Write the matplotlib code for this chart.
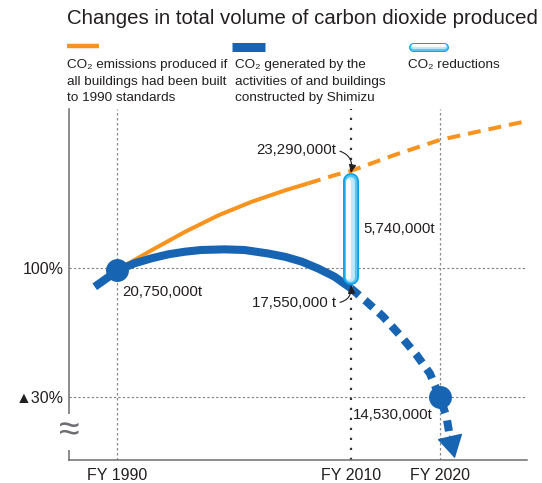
import numpy as np
import matplotlib.pyplot as plt
from matplotlib.lines import Line2D
from matplotlib.patches import FancyArrowPatch
from matplotlib.transforms import IdentityTransform

plt.rcParams['font.family'] = ['Liberation Sans', 'DejaVu Sans']

# ---- values ----
tick_years = [1990, 2010, 2020]
tick_labels = ['FY 1990', 'FY 2010', 'FY 2020']
pct_ticks = [100, 70]
pct_labels = ['100%', '\u25b230%']

# CO2 if all buildings had been built to 1990 standards (% of FY1990)
std_years = [1990.0, 1991.0, 1993.0, 1995.8, 1998.7, 2001.5, 2004.4, 2006.35]
std_pct = [100.0, 101.1, 104.2, 108.4, 112.3, 115.4, 118.1, 119.7]
std_years_proj = [2006.35, 2008.6, 2010.0, 2014.9, 2020.0, 2025.1, 2029.8]
std_pct_proj = [119.7, 121.6, 122.6, 126.3, 129.8, 132.1, 134.2]

# CO2 generated by Shimizu (actual, then target)
act_years = [1988.1, 1990.1, 1991.5, 1993.0, 1994.4, 1995.8, 1997.2, 1999.2, 2000.9,
             2002.9, 2004.4, 2005.8, 2007.2, 2008.6, 2010.0]
act_pct = [95.65, 99.5, 101.1, 102.3, 103.2, 103.8, 104.2, 104.35, 104.2,
           103.4, 102.6, 101.5, 99.9, 98.0, 95.3]
act_years_proj = [2010.0, 2011.76, 2013.63, 2015.51, 2017.38, 2018.88, 2020.0, 2020.75,
                  2021.12, 2021.69]
act_pct_proj = [95.3, 92.2, 88.7, 84.4, 79.8, 75.5, 70.0, 65.4, 60.9, 55.75]

milestone_years = [1990, 2020]
milestone_pct = [99.5, 70.0]
milestone_labels = ['20,750,000t', '14,530,000t']

reduction_year = 2010
reduction_top = 122.1
reduction_bottom = 96.05
reduction_labels = ['23,290,000t', '17,550,000 t', '5,740,000t']

legend_labels = ['CO\u2082 emissions produced if\nall buildings had been built\nto 1990 standards',
                 'CO\u2082 generated by the\nactivities of and buildings\nconstructed by Shimizu',
                 'CO\u2082 reductions']

ORANGE = '#f7931e'
BLUE = '#1764b3'
CYAN = '#0aa3e5'
TXT = '#231f20'

W, H = 542, 483
fig = plt.figure(figsize=(W / 100, H / 100), dpi=100)


def fx(x):
    return x / W


def fy(y):
    return 1 - y / H


ax = fig.add_axes([fx(69), fy(460), fx(527) - fx(69), fy(109) - fy(460)])

# schematic time axis: 20 years before 2010 are wider than the 10 after
knot_years = [1900, 1990, 2010, 2020, 2100]
knot_pos = [117 - 90 * 11.7, 117, 351, 440, 440 + 80 * 8.9]
ax.set_xscale('function', functions=(lambda x: np.interp(x, knot_years, knot_pos),
                                     lambda p: np.interp(p, knot_pos, knot_years)))
ax.set_xlim(1985.9, 2029.8)
ax.set_ylim(55.35, 137.0)

for s in ['top', 'right']:
    ax.spines[s].set_visible(False)
for s in ['left', 'bottom']:
    ax.spines[s].set_color('#6d6e71')
    ax.spines[s].set_linewidth(1.1)

ax.set_xticks(tick_years, tick_labels)
ax.set_yticks(pct_ticks, pct_labels)
ax.tick_params(length=0, labelsize=11.5, colors=TXT)
ax.tick_params(axis='x', pad=6)
ax.tick_params(axis='y', pad=4)

# grid lines
for p in pct_ticks:
    ax.axhline(p, color='#7f7f7f', lw=0.8, dashes=(2, 2), zorder=1)
for yr in tick_years:
    if yr == 2010:
        ax.axvline(yr, color='#333333', lw=1.6, dashes=(1, 3.5), zorder=1)
    else:
        ax.axvline(yr, color='#8a8a8a', lw=0.9, dashes=(2, 2), zorder=1)

# axis break mark
ax.text(0, 61.9, '\u2248', transform=ax.get_yaxis_transform(), ha='center', va='center',
        fontsize=27, color='#6d6e71',
        bbox=dict(facecolor='white', edgecolor='none', pad=0), zorder=5)

# orange curve
ax.plot(std_years, std_pct, color=ORANGE, lw=2.9, solid_capstyle='butt',
        solid_joinstyle='round', zorder=3)
ax.plot(std_years_proj, std_pct_proj, color=ORANGE, lw=2.9, dashes=(3.2, 2.0),
        dash_capstyle='butt', zorder=3)

# blue curve
ax.plot(act_years, act_pct, color=BLUE, lw=5.8, solid_capstyle='butt',
        solid_joinstyle='round', zorder=4)
ax.plot(act_years_proj[:-1], act_pct_proj[:-1], color=BLUE, lw=5.8, dashes=(1.35, 0.95),
        dash_capstyle='butt', zorder=4)
ax.add_patch(FancyArrowPatch((act_years_proj[-2], act_pct_proj[-2]),
                             (act_years_proj[-1], act_pct_proj[-1]),
                             arrowstyle='-|>,head_length=1.4,head_width=0.8',
                             mutation_scale=10.5, color=BLUE, lw=1,
                             shrinkA=0, shrinkB=0, zorder=5))
ax.plot(milestone_years, milestone_pct, 'o', color=BLUE, ms=16.5, mec='none', zorder=6)


def capsule(p0, p1, width_px):
    # round-capped bar whose outer ends sit on display points p0, p1
    p0 = np.asarray(p0, float)
    p1 = np.asarray(p1, float)
    u = (p1 - p0) / np.hypot(*(p1 - p0))
    a = p0 + u * width_px / 2
    b = p1 - u * width_px / 2
    layers = [(1.0, CYAN, 0.0), (0.78, '#5ec3f0', 0.0), (0.55, '#bfe8fa', -0.08),
              (0.3, 'white', -0.15)]
    perp = np.array([-u[1], u[0]])
    if perp[0] > 0:
        perp = -perp
    for frac, col, off in layers:
        sh = -perp * off * width_px
        fig.add_artist(Line2D([a[0] + sh[0], b[0] + sh[0]], [a[1] + sh[1], b[1] + sh[1]],
                              transform=IdentityTransform(), color=col,
                              lw=width_px * frac * 0.72, solid_capstyle='round', zorder=7))


fig.canvas.draw()
top_d = ax.transData.transform((reduction_year, reduction_top))
bot_d = ax.transData.transform((reduction_year, reduction_bottom))
capsule(top_d, bot_d, 16)

arrow_kw = dict(arrowstyle='-|>,head_length=0.5,head_width=0.22', color=TXT, lw=0.8,
                shrinkA=1, shrinkB=0, mutation_scale=10)
ax.annotate(reduction_labels[0], (reduction_year, reduction_top), xytext=(-15, 23),
            textcoords='offset pixels', ha='right', va='center', fontsize=10.8, color=TXT,
            arrowprops=dict(connectionstyle='arc3,rad=-0.5', relpos=(1, 0.5), **arrow_kw),
            zorder=8)
ax.annotate(reduction_labels[1], (reduction_year, reduction_bottom), xytext=(-15, -18),
            textcoords='offset pixels', ha='right', va='center', fontsize=10.8, color=TXT,
            arrowprops=dict(connectionstyle='arc3,rad=0.5', relpos=(1, 0.5), **arrow_kw),
            zorder=8)
ax.annotate(reduction_labels[2], (reduction_year, (reduction_top + reduction_bottom) / 2),
            xytext=(12, 0), textcoords='offset pixels', ha='left', va='center',
            fontsize=10.8, color=TXT)
ax.annotate(milestone_labels[0], (milestone_years[0], milestone_pct[0]), xytext=(5, -22),
            textcoords='offset pixels', ha='left', va='center', fontsize=10.8, color=TXT)
ax.annotate(milestone_labels[1], (milestone_years[1], milestone_pct[1]), xytext=(-7, -18),
            textcoords='offset pixels', ha='right', va='center', fontsize=10.8, color=TXT)

# title and legend
fig.text(fx(67), fy(18), 'Changes in total volume of carbon dioxide produced',
         ha='left', va='center', fontsize=14.7, color=TXT)

fig.add_artist(Line2D([fx(67), fx(99)], [fy(46), fy(46)], color=ORANGE, lw=3.2,
                      solid_capstyle='butt'))
fig.add_artist(Line2D([fx(232), fx(265)], [fy(46.5), fy(46.5)], color=BLUE, lw=6.5,
                      solid_capstyle='butt'))
capsule((408, H - 46.5), (448, H - 46.5), 9)

for x0, lab in zip([67, 235, 408], legend_labels):
    fig.text(fx(x0), fy(59), lab, ha='left', va='top', fontsize=9.7, color=TXT,
             linespacing=1.5)

fig.savefig('out.png', dpi=100)
